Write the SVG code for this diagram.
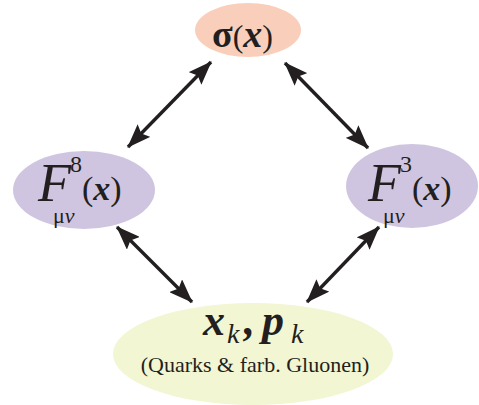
<svg xmlns="http://www.w3.org/2000/svg" width="479" height="405" viewBox="0 0 479 405">
<defs>
<style>
text{font-family:"Liberation Serif","Times New Roman",serif;fill:#231F20}
.bi{font-weight:bold;font-style:italic}
.it{font-style:italic}
.conn line{stroke:#231F20;stroke-width:3.4;marker-start:url(#ah);marker-end:url(#ah)}
</style>
<marker id="ah" viewBox="0 0 24 18" refX="23" refY="9" markerWidth="24" markerHeight="18" markerUnits="userSpaceOnUse" orient="auto-start-reverse">
<path d="M0,0 L24,9 L0,18 L4,9 Z" fill="#231F20"/>
</marker>
</defs>
<rect width="479" height="405" fill="#fff"/>
<g id="sigma">
<ellipse cx="248" cy="30" rx="53" ry="27" fill="#F9CFBB"/>
<text x="212" y="47" font-size="38"><tspan font-weight="bold">σ</tspan><tspan font-size="32">(</tspan><tspan class="bi">x</tspan><tspan font-size="32">)</tspan></text>
</g>
<g id="F8">
<ellipse cx="84" cy="190" rx="71" ry="39" fill="#D0C5E1"/>
<text font-size="54"><tspan x="38" y="201" class="it">F</tspan><tspan x="70" y="172" font-size="24">8</tspan><tspan x="53" y="223" font-size="22">μ</tspan><tspan font-size="22" class="it">ν</tspan><tspan x="82" y="200" font-size="34">(</tspan><tspan font-size="34" class="bi">x</tspan><tspan font-size="34">)</tspan></text>
</g>
<g id="F3">
<ellipse cx="412" cy="186" rx="66" ry="42" fill="#D0C5E1"/>
<text font-size="54"><tspan x="368" y="201" class="it">F</tspan><tspan x="400" y="172" font-size="24">3</tspan><tspan x="383" y="223" font-size="22">μ</tspan><tspan font-size="22" class="it">ν</tspan><tspan x="412" y="200" font-size="34">(</tspan><tspan font-size="34" class="bi">x</tspan><tspan font-size="34">)</tspan></text>
</g>
<g id="xp">
<ellipse cx="253" cy="354" rx="140" ry="51" fill="#F2F6D2"/>
<text font-size="44"><tspan x="203" y="335" class="bi">x</tspan><tspan x="227" y="343" font-size="28" class="it">k</tspan><tspan x="244" y="335" class="bi">,</tspan><tspan x="262" y="335" class="bi">p</tspan><tspan x="291" y="343" font-size="28" class="it">k</tspan></text>
<text x="255" y="372" font-size="22" text-anchor="middle">(Quarks &amp; farb. Gluonen)</text>
</g>
<g class="conn" id="connectors">
<line x1="211" y1="62" x2="128" y2="147"/>
<line x1="285" y1="63" x2="368" y2="148"/>
<line x1="117" y1="227" x2="192" y2="302"/>
<line x1="379" y1="227" x2="307" y2="302"/>
</g>
</svg>
